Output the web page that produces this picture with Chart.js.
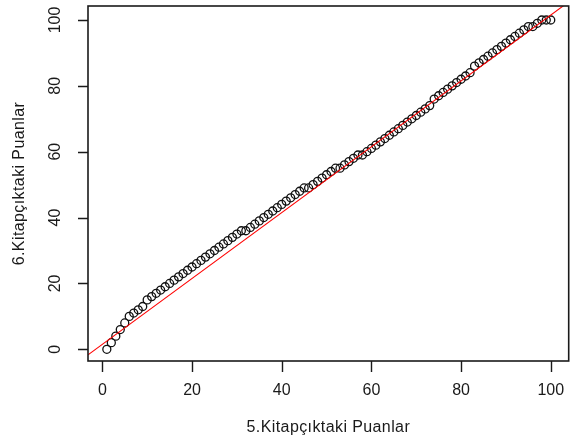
<!DOCTYPE html>
<html>
<head>
<meta charset="utf-8">
<script src="https://cdn.jsdelivr.net/npm/chart.js"></script>
<style>
    body { margin: 0; background: #ffffff; }
    #cadre { width: 574px; height: 446px; }
</style>
</head>
<body>
<div id="cadre"><canvas id="graph"></canvas></div>
<script>
// Puanlar (5. kitapcik -> x, 6. kitapcik -> y)
let puan5 = [1, 2, 3, 4, 5, 6, 7, 8, 9, 10,
    11, 12, 13, 14, 15, 16, 17, 18, 19, 20,
    21, 22, 23, 24, 25, 26, 27, 28, 29, 30,
    31, 32, 33, 34, 35, 36, 37, 38, 39, 40,
    41, 42, 43, 44, 45, 46, 47, 48, 49, 50,
    51, 52, 53, 54, 55, 56, 57, 58, 59, 60,
    61, 62, 63, 64, 65, 66, 67, 68, 69, 70,
    71, 72, 73, 74, 75, 76, 77, 78, 79, 80,
    81, 82, 83, 84, 85, 86, 87, 88, 89, 90,
    91, 92, 93, 94, 95, 96, 97, 98, 99, 100];
let puan6 = [0, 2, 4, 6, 8, 10, 11, 12, 13, 15,
    16, 17, 18, 19, 20, 21, 22, 23, 24, 25,
    26, 27, 28, 29, 30, 31, 32, 33, 34, 35,
    36, 36, 37, 38, 39, 40, 41, 42, 43, 44,
    45, 46, 47, 48, 49, 49, 50, 51, 52, 53,
    54, 55, 55, 56, 57, 58, 59, 59, 60, 61,
    62, 63, 64, 65, 66, 67, 68, 69, 70, 71,
    72, 73, 74, 76, 77, 78, 79, 80, 81, 82,
    83, 84, 86, 87, 88, 89, 90, 91, 92, 93,
    94, 95, 96, 97, 98, 98, 99, 100, 100, 100];

let xTicks = [0, 20, 40, 60, 80, 100];
let yTicks = [0, 20, 40, 60, 80, 100];
let xBaslik = "5.Kitapçıktaki Puanlar";
let yBaslik = "6.Kitapçıktaki Puanlar";

// Kirmizi dogru: y = kesisim + egim * x
let dogruKesisim = 1.5;
let dogruEgim = 1;

const X_MIN = -3.2, X_MAX = 104;
const Y_MIN = -3.55, Y_MAX = 104.25;
const YAZI = '16px "Liberation Sans", Arial, sans-serif';
const RENK = '#1a1a1a';

// Cerceve, tick cizgileri ve yazilar (R tarzi)
const cerceve = {
    id: 'cerceve',
    afterDraw(chart) {
        const ctx = chart.ctx;
        const area = chart.chartArea;
        const sx = chart.scales.x;
        const sy = chart.scales.y;
        ctx.save();
        ctx.strokeStyle = RENK;
        ctx.lineWidth = 1.6;
        ctx.strokeRect(area.left, area.top, area.right - area.left, area.bottom - area.top);

        ctx.beginPath();
        xTicks.forEach(v => {
            let px = Math.round(sx.getPixelForValue(v)) + 0.5;
            ctx.moveTo(px, area.bottom);
            ctx.lineTo(px, area.bottom + 11);
        });
        yTicks.forEach(v => {
            let py = Math.round(sy.getPixelForValue(v)) + 0.5;
            ctx.moveTo(area.left, py);
            ctx.lineTo(area.left - 10, py);
        });
        ctx.lineWidth = 1.4;
        ctx.stroke();

        ctx.fillStyle = RENK;
        ctx.font = YAZI;
        ctx.textAlign = 'center';
        ctx.textBaseline = 'middle';
        xTicks.forEach(v => {
            ctx.fillText(String(v), sx.getPixelForValue(v), 391);
        });
        yTicks.forEach(v => {
            ctx.save();
            ctx.translate(56, sy.getPixelForValue(v));
            ctx.rotate(-Math.PI / 2);
            ctx.fillText(String(v), 0, 0);
            ctx.restore();
        });

        // eksen basliklari biraz daha genis aralikli
        ctx.letterSpacing = '0.4px';
        ctx.fillText(xBaslik, (area.left + area.right) / 2, 428);
        ctx.translate(20, (area.top + area.bottom) / 2);
        ctx.rotate(-Math.PI / 2);
        ctx.fillText(yBaslik, 0, 0);
        ctx.restore();
    }
};

window.onload = function () {
    let noktalar = puan5.map((x, i) => ({ x: x, y: puan6[i] }));
    let dogru = [X_MIN, X_MAX].map(x => ({ x: x, y: dogruKesisim + dogruEgim * x }));

    new Chart(document.getElementById('graph'), {
        type: 'scatter',
        data: {
            datasets: [
                {
                    // dogru en ustte cizilsin diye ilk sirada
                    data: dogru,
                    showLine: true,
                    borderColor: '#ff0000',
                    borderWidth: 1.1,
                    pointRadius: 0,
                    fill: false
                },
                {
                    data: noktalar,
                    pointStyle: 'circle',
                    pointRadius: 4,
                    pointBorderWidth: 1.3,
                    pointBorderColor: '#111111',
                    pointBackgroundColor: 'rgba(0,0,0,0)'
                }
            ]
        },
        options: {
            responsive: true,
            maintainAspectRatio: false,
            animation: false,
            layout: { padding: { left: 88, top: 6, right: 0, bottom: 85 } },
            plugins: { legend: { display: false }, tooltip: { enabled: false } },
            scales: {
                x: { type: 'linear', min: X_MIN, max: X_MAX, display: false },
                y: { type: 'linear', min: Y_MIN, max: Y_MAX, display: false }
            }
        },
        plugins: [cerceve]
    });
};
</script>
</body>
</html>
